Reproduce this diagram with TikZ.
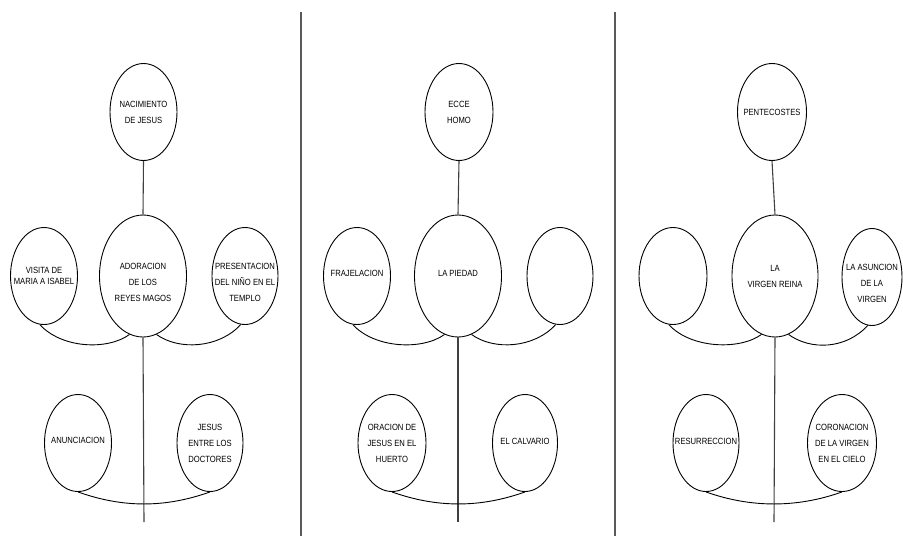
\documentclass[tikz,border=0pt]{standalone}
\usepackage{fontspec}
\setmainfont{Liberation Sans}
\newfontfamily\ovalfont[FakeStretch=0.85]{Liberation Sans}
\usetikzlibrary{shapes.geometric}

\begin{document}
\begin{tikzpicture}[x=1pt, y=-1pt,
        oval/.style={ellipse, draw=black, line width=0.9pt, inner sep=0pt},
        big/.style={oval, minimum width=87pt, minimum height=122pt},
        small/.style={oval, minimum width=67pt, minimum height=97pt},
        txt/.style={font=\ovalfont\fontsize{9}{16}\selectfont, align=center, inner sep=0pt},
        stem/.style={line width=1.1pt, color=black!75},
        link/.style={line width=0.9pt, color=black},
        sep/.style={line width=1.6pt, color=black!65}]
        \useasboundingbox (0,0) rectangle (903,536);

        % first panel
        \node[small] (1) at (143.5,112) {};
        \node[big] (2) at (143,276) {};
        \node[small] (3) at (44,276) {};
        \node[small, minimum width=66pt] (4) at (245,276) {};
        \node[small] (5) at (78,443) {};
        \node[small, minimum width=66pt] (6) at (210,443) {};
        \coordinate (e1) at (144,522);

        \node[txt] at (1.center) {NACIMIENTO\\DE JESUS};
        \node[txt, yshift=-6pt] at (2.center) {ADORACION\\DE LOS\\REYES MAGOS};
        \node[txt, font=\ovalfont\fontsize{9}{11}\selectfont] at (3.center) {VISITA DE\\MARIA A ISABEL};
        \node[txt, yshift=-6pt] at (4.center) {PRESENTACION\\DEL NIÑO EN EL\\TEMPLO};
        \node[txt, yshift=3pt] at (5.center) {ANUNCIACION};
        \node[txt] at (6.center) {JESUS\\ENTRE LOS\\DOCTORES};

        \draw[stem] (1.south) -- (2.north);
        \draw[stem] (2.south) -- (e1);
        \draw[link] (3.-95) .. controls +(22,24) and +(-22,16) .. (2.-103);
        \draw[link] (2.-77) .. controls +(22,16) and +(-22,24) .. (4.-95);
        \draw[link] (5.south) .. controls +(45,16) and +(-45,16) .. (6.south);

        % second panel
        \node[small, minimum width=68pt] (7) at (459,112) {};
        \node[big] (8) at (458,276) {};
        \node[small] (9) at (357,276) {};
        \node[small, minimum width=66pt] (10) at (560,276) {};
        \node[small, minimum width=68pt] (11) at (392,443) {};
        \node[small, minimum width=65pt] (12) at (525,443) {};
        \coordinate (e2) at (458,522);

        \node[txt] at (7.center) {ECCE\\HOMO};
        \node[txt, yshift=3pt] at (8.center) {LA PIEDAD};
        \node[txt, yshift=3pt] at (9.center) {FRAJELACION};
        \node[txt] at (11.center) {ORACION DE\\JESUS EN EL\\HUERTO};
        \node[txt, yshift=2pt] at (12.center) {EL CALVARIO};

        \draw[stem] (7.south) -- (8.north);
        \draw[stem] (8.south) -- (e2);
        \draw[link] (9.-95) .. controls +(22,24) and +(-22,16) .. (8.-103);
        \draw[link] (8.-77) .. controls +(22,16) and +(-22,24) .. (10.-95);
        \draw[link] (11.south) .. controls +(45,16) and +(-45,16) .. (12.south);

        % third panel
        \node[small, minimum width=69pt] (13) at (772,112) {};
        \node[big, minimum width=86pt] (14) at (775,276) {};
        \node[small, minimum width=68pt] (15) at (673,276) {};
        \node[small, minimum width=60pt] (16) at (872,277) {};
        \node[small, minimum width=66pt] (17) at (706,443) {};
        \node[small, minimum width=69pt] (18) at (842,443) {};
        \coordinate (e3) at (774,522);

        \node[txt] at (13.center) {PENTECOSTES};
        \node[txt] at (14.center) {LA\\VIRGEN REINA};
        \node[txt, yshift=-6pt] at (16.center) {LA ASUNCION\\DE LA\\VIRGEN};
        \node[txt, yshift=2pt] at (17.center) {RESURRECCION};
        \node[txt] at (18.center) {CORONACION\\DE LA VIRGEN\\EN EL CIELO};

        \draw[stem] (13.south) -- (14.north);
        \draw[stem] (14.south) -- (e3);
        \draw[link] (15.-95) .. controls +(22,24) and +(-22,16) .. (14.-103);
        \draw[link] (14.-77) .. controls +(22,16) and +(-22,24) .. (16.-95);
        \draw[link] (17.south) .. controls +(45,16) and +(-45,16) .. (18.south);

        % panel borders
        \coordinate (s1) at (301,12);
        \coordinate (s2) at (301,536);
        \coordinate (s3) at (615,12);
        \coordinate (s4) at (615,536);
        \draw[sep] (s1) -- (s2);
        \draw[sep] (s3) -- (s4);
    \end{tikzpicture}
\end{document}
